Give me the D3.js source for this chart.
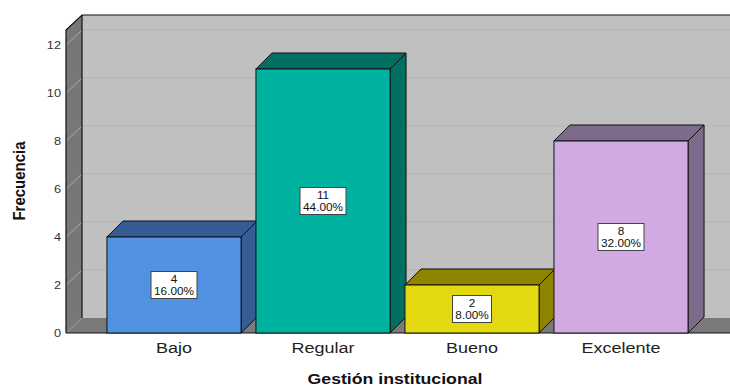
<!DOCTYPE html>
<html>
<head>
<meta charset="utf-8">
<script src="https://cdn.jsdelivr.net/npm/d3@7/dist/d3.min.js"></script>
<style>
  body { margin: 0; background: #ffffff; }
  svg { display: block; font-family: "Liberation Sans", Arial, sans-serif; }
</style>
</head>
<body>
<svg id="chart" width="730" height="386"></svg>
<script>
// Frequency of each institutional-management rating
const categories = ["Bajo", "Regular", "Bueno", "Excelente"];
const counts = [4, 11, 2, 8];
const yTicks = [0, 2, 4, 6, 8, 10, 12];
const frontColors = ["#5292e2", "#00b3a0", "#e4d911", "#d1a9e3"];
const shadeColors = ["#355d93", "#006e60", "#8e8400", "#7e6a8a"];

const svg = d3.select("#chart");
const W = 730, H = 386;

// pseudo-3D geometry
const wallDX = 16, wallDY = 15;     // depth of walls / floor
const barDX = 16, barDY = 16;       // depth of bars
const floorY = 333, topY = 30;
const frontLeft = 66, frontRight = 730;
const stretch = 1.16;               // horizontal text stretch

const y = d3.scaleLinear().domain([0, 12.625]).range([floorY, topY]);
const x = d3.scaleBand().domain(categories).range([84.6, 710.4])
  .paddingInner(0.1).paddingOuter(0.15);

const total = d3.sum(counts);
const pct = d3.format(".2f");

// back wall
svg.append("rect")
  .attr("x", frontLeft + wallDX).attr("y", topY - wallDY)
  .attr("width", W).attr("height", floorY - topY)
  .attr("fill", "#c0c0c0");

// back-wall gridlines
svg.append("g").selectAll("line").data(yTicks.filter(d => d > 0)).join("line")
  .attr("x1", frontLeft + wallDX).attr("x2", W)
  .attr("y1", d => y(d) - wallDY).attr("y2", d => y(d) - wallDY)
  .attr("stroke", "#b3b3b3").attr("stroke-width", 1.2);

// left wall
svg.append("path")
  .attr("d", `M${frontLeft},${floorY}L${frontLeft},${topY}L${frontLeft + wallDX},${topY - wallDY}L${frontLeft + wallDX},${floorY - wallDY}Z`)
  .attr("fill", "#777777");

// left-wall tick guides
svg.append("g").selectAll("line").data(yTicks.filter(d => d > 0)).join("line")
  .attr("x1", frontLeft).attr("x2", frontLeft + wallDX)
  .attr("y1", d => y(d)).attr("y2", d => y(d) - wallDY)
  .attr("stroke", "#aaaaaa").attr("stroke-width", 1);

// floor
svg.append("path")
  .attr("d", `M${frontLeft},${floorY}L${frontLeft + wallDX},${floorY - wallDY}L${frontRight + wallDX},${floorY - wallDY}L${frontRight},${floorY}Z`)
  .attr("fill", "#7a7a7a");
svg.append("line")
  .attr("x1", frontLeft).attr("y1", floorY)
  .attr("x2", frontLeft + wallDX).attr("y2", floorY - wallDY)
  .attr("stroke", "#9a9a9a").attr("stroke-width", 1);

// outline of walls
svg.append("path")
  .attr("d", `M${frontLeft},${floorY}L${frontLeft},${topY}L${frontLeft + wallDX},${topY - wallDY}L${W + 10},${topY - wallDY}`)
  .attr("fill", "none").attr("stroke", "#111").attr("stroke-width", 1.2);
svg.append("line")
  .attr("x1", frontLeft + wallDX).attr("y1", topY - wallDY)
  .attr("x2", frontLeft + wallDX).attr("y2", floorY - wallDY)
  .attr("stroke", "#111").attr("stroke-width", 1.2);
svg.append("line")
  .attr("x1", frontLeft).attr("y1", floorY)
  .attr("x2", frontRight).attr("y2", floorY)
  .attr("stroke", "#111").attr("stroke-width", 1.2);

// bars
const data = categories.map((c, i) => ({ cat: c, n: counts[i], i }));
const bars = svg.append("g").selectAll("g").data(data).join("g");

bars.each(function (d) {
  const g = d3.select(this);
  const x0 = x(d.cat), x1 = x0 + x.bandwidth();
  const yt = y(d.n), yb = y(0);
  // top face
  g.append("path")
    .attr("d", `M${x0},${yt}L${x0 + barDX},${yt - barDY}L${x1 + barDX},${yt - barDY}L${x1},${yt}Z`)
    .attr("fill", shadeColors[d.i]).attr("stroke", "#111").attr("stroke-width", 1)
    .attr("stroke-linejoin", "round");
  // side face
  g.append("path")
    .attr("d", `M${x1},${yt}L${x1 + barDX},${yt - barDY}L${x1 + barDX},${yb - barDY}L${x1},${yb}Z`)
    .attr("fill", shadeColors[d.i]).attr("stroke", "#111").attr("stroke-width", 1)
    .attr("stroke-linejoin", "round");
  // front face
  g.append("rect")
    .attr("x", x0).attr("y", yt).attr("width", x1 - x0).attr("height", yb - yt)
    .attr("fill", frontColors[d.i]).attr("stroke", "#111").attr("stroke-width", 1);

  // value label
  const cx = x0 + x.bandwidth() / 2, cy = (yt + yb) / 2;
  const lab = g.append("g").attr("transform", `translate(${cx},${cy})`);
  const box = lab.append("rect").attr("fill", "#ffffff").attr("stroke", "#444").attr("stroke-width", 1);
  const t = lab.append("g").attr("transform", `scale(1.07,1)`);
  const l1 = t.append("text").attr("text-anchor", "middle").attr("y", -2)
    .attr("font-size", 11).attr("fill", "#111").text(d.n);
  const l2 = t.append("text").attr("text-anchor", "middle").attr("y", 10)
    .attr("font-size", 11).attr("fill", "#111").text(pct(d.n / total * 100) + "%");
  const tw = Math.max(l1.node().getComputedTextLength(), l2.node().getComputedTextLength()) * 1.07;
  const bw = Math.round(tw + 6), bh = 27;
  box.attr("x", -bw / 2).attr("y", -bh / 2).attr("width", bw).attr("height", bh);
});

// y axis labels
const yAxis = svg.append("g")
  .attr("transform", `translate(${frontLeft},0)`)
  .call(d3.axisLeft(y).tickValues(yTicks).tickSize(0).tickPadding(5).tickFormat(d3.format("d")));
yAxis.select(".domain").remove();
yAxis.selectAll("text")
  .attr("font-family", "Liberation Sans, Arial, sans-serif")
  .attr("font-size", 11).attr("fill", "#333")
  .attr("transform", `scale(${stretch},1)`).attr("x", -5 / stretch);

// category labels
const xAxis = svg.append("g")
  .attr("transform", `translate(0,${floorY})`)
  .call(d3.axisBottom(x).tickSize(0).tickPadding(0));
xAxis.select(".domain").remove();
xAxis.selectAll("text")
  .attr("font-family", "Liberation Sans, Arial, sans-serif")
  .attr("font-size", 15).attr("fill", "#222")
  .attr("dy", null).attr("y", 20)
  .attr("transform", `scale(${stretch + 0.04},1)`);

// axis titles
svg.append("g").attr("transform", `translate(395,384) scale(${stretch + 0.02},1)`)
  .append("text").attr("text-anchor", "middle")
  .attr("font-size", 15).attr("font-weight", "bold").attr("fill", "#111")
  .text("Gestión institucional");

svg.append("g").attr("transform", `translate(25,181) scale(${stretch},1) rotate(-90)`)
  .append("text").attr("text-anchor", "middle")
  .attr("font-size", 15).attr("font-weight", "bold").attr("fill", "#111")
  .text("Frecuencia");
</script>
</body>
</html>
